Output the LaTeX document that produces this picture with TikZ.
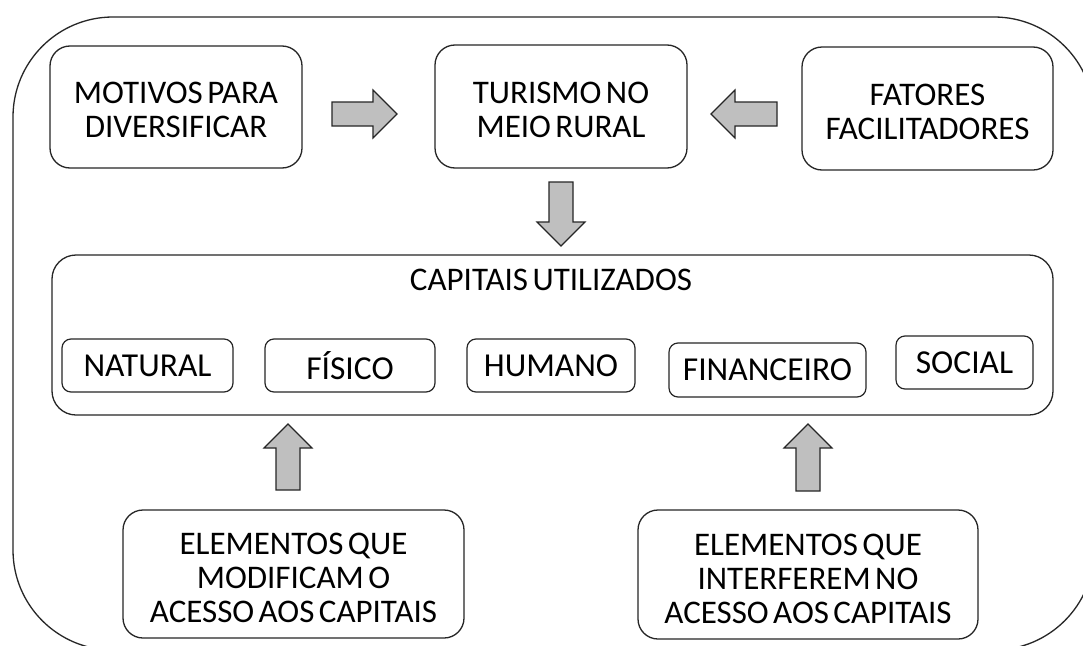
\documentclass[tikz,border=0pt]{standalone}
\usepackage{fontspec}
\setmainfont{Carlito}[WordSpace=0.6]
\usetikzlibrary{calc}
\tikzset{
  box/.style={draw=black!85, line width=1.3pt, rounded corners=20pt, align=center, inner sep=0pt,
    font=\fontsize{33}{34}\selectfont},
  cbox/.style={draw=black!85, line width=1.2pt, rounded corners=9pt, inner sep=0pt,
    font=\fontsize{33.5}{34}\selectfont},
  frame/.style={draw=black!85, line width=1.3pt, rounded corners=100pt},
  blockarrow/.style={draw=black!85, line width=1.2pt, fill=black!25, line join=miter},
}
\newcommand{\tstrut}{\rule{0pt}{28pt}}
\newcommand{\blockarr}[3]{\draw[blockarrow, shift={(#1)}, rotate=#2]
  (0,-12) -- ({#3-24},-12) -- ({#3-24},-24) -- (#3,0) -- ({#3-24},24) -- ({#3-24},12) -- (0,12) -- cycle;}
\begin{document}
\begin{tikzpicture}[x=1pt,y=-1pt]
\useasboundingbox (0,0) rectangle (1083,645);
\clip (0,0) rectangle (1083,645);
\fill[white] (0,0) rectangle (1083,645);
% outer frame
\draw[frame] (13,17) rectangle (1094,650);
% top row
\node[box, minimum width=252pt, minimum height=122pt] (mot) at (176,107) {\tstrut MOTIVOS PARA\\DIVERSIFICAR};
\node[box, minimum width=252pt, minimum height=123pt] (tur) at (561,106.5) {\tstrut TURISMO NO\\MEIO RURAL};
\node[box, minimum width=251pt, minimum height=123pt] (fat) at (927.5,108.5) {\tstrut FATORES\\FACILITADORES};
% capitais
\node[box, rounded corners=24pt, minimum width=1001pt, minimum height=160pt] (cap) at (552.5,335) {};
\node[anchor=base, inner sep=0pt, font=\fontsize{33}{33}\selectfont] (captit) at (551,290) {CAPITAIS UTILIZADOS};
\node[cbox, minimum width=171pt, minimum height=53pt] (nat) at (147.5,365.5) {NATURAL};
\node[cbox, minimum width=170pt, minimum height=53pt] (fis) at (350,365.5) {FÍSICO};
\node[cbox, minimum width=168pt, minimum height=53pt] (hum) at (551,365.5) {HUMANO};
\node[cbox, minimum width=197pt, minimum height=54pt] (fin) at (767.5,370) {FINANCEIRO};
\node[cbox, minimum width=137pt, minimum height=53pt] (soc) at (964.5,362.5) {SOCIAL};
% bottom row
\node[box, minimum width=341pt, minimum height=128pt] (elm) at (293.5,574) {\rule{0pt}{29.5pt}ELEMENTOS QUE\\MODIFICAM O\\ACESSO AOS CAPITAIS};
\node[box, minimum width=340pt, minimum height=129pt] (eli) at (808,574.5) {\rule{0pt}{29.5pt}ELEMENTOS QUE\\INTERFEREM NO\\ACESSO AOS CAPITAIS};
% block arrows
\coordinate (a1) at (332,114);
\coordinate (a2) at (777,114);
\coordinate (a3) at (561,182);
\coordinate (a4) at (288,490);
\coordinate (a5) at (808,491);
\blockarr{a1}{0}{65}
\blockarr{a2}{180}{66}
\blockarr{a3}{-90}{64}
\blockarr{a4}{90}{66}
\blockarr{a5}{90}{67}
\end{tikzpicture}
\end{document}
